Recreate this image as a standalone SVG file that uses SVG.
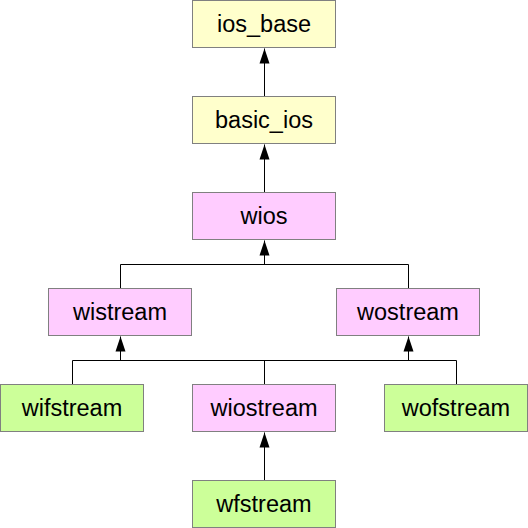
<svg xmlns="http://www.w3.org/2000/svg" width="528" height="528" viewBox="0 0 528 528">
<defs>
<marker id="arr" markerUnits="userSpaceOnUse" markerWidth="16" markerHeight="12" refX="15" refY="5.5" orient="auto">
<path d="M0,0.5 L15,5.5 L0,10.5 Z" fill="#000"/>
</marker>
<style>
rect{stroke:#808080;stroke-width:1}
.y{fill:#FFFFCC}.p{fill:#FFCCFF}.g{fill:#CCFF99}
text{font-family:"Liberation Sans",Arial,sans-serif;font-size:23.5px;text-anchor:middle;fill:#000}
.c{fill:none;stroke:#000;stroke-width:1}
</style>
</defs>
<rect width="528" height="528" fill="#fff" style="stroke:none"/>
<g id="connectors">
<path class="c" d="M264.5,96 V48.5" marker-end="url(#arr)"/>
<path class="c" d="M264.5,192 V144.5" marker-end="url(#arr)"/>
<path class="c" d="M120.5,288 V264.5 H408.5 V288"/>
<path class="c" d="M264.5,264.5 V240.5" marker-end="url(#arr)"/>
<path class="c" d="M72.5,384 V360.5 H456.5 V384"/>
<path class="c" d="M264.5,360.5 V384"/>
<path class="c" d="M120.5,360.5 V336.5" marker-end="url(#arr)"/>
<path class="c" d="M408.5,360.5 V336.5" marker-end="url(#arr)"/>
<path class="c" d="M264.5,480 V432.5" marker-end="url(#arr)"/>
</g>
<g id="ios_base"><rect class="y" x="192.5" y="0.5" width="143" height="47"/><text x="264" y="32">ios_base</text></g>
<g id="basic_ios"><rect class="y" x="192.5" y="96.5" width="143" height="47"/><text x="264" y="128">basic_ios</text></g>
<g id="wios"><rect class="p" x="192.5" y="192.5" width="143" height="47"/><text x="264" y="224">wios</text></g>
<g id="wistream"><rect class="p" x="48.5" y="288.5" width="143" height="47"/><text x="120" y="320">wistream</text></g>
<g id="wostream"><rect class="p" x="336.5" y="288.5" width="143" height="47"/><text x="408" y="320">wostream</text></g>
<g id="wifstream"><rect class="g" x="0.5" y="384.5" width="143" height="47"/><text x="72" y="416">wifstream</text></g>
<g id="wiostream"><rect class="p" x="192.5" y="384.5" width="143" height="47"/><text x="264" y="416">wiostream</text></g>
<g id="wofstream"><rect class="g" x="384.5" y="384.5" width="143" height="47"/><text x="456" y="416">wofstream</text></g>
<g id="wfstream"><rect class="g" x="192.5" y="480.5" width="143" height="47"/><text x="264" y="512">wfstream</text></g>
</svg>
